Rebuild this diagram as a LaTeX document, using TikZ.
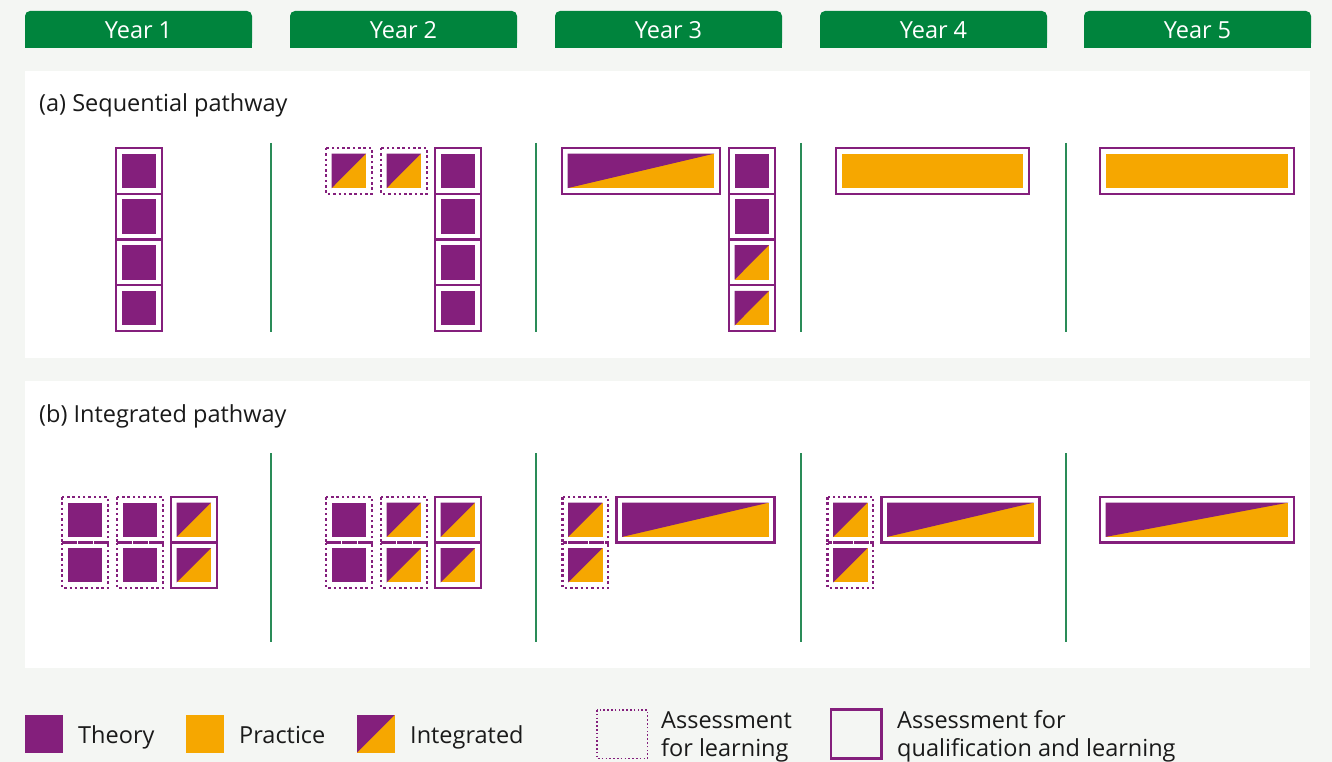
\documentclass[tikz,border=0pt]{standalone}
\usepackage{fontspec}
\setmainfont{Open Sans}
\definecolor{pur}{HTML}{841F7C}
\definecolor{ora}{HTML}{F6A700}
\definecolor{grn}{HTML}{00843D}
\definecolor{bgc}{HTML}{F4F6F3}
\definecolor{sepc}{HTML}{2A8C58}
\definecolor{txt}{HTML}{1A1A1A}
\newcommand\fillth[4]{\fill[pur] (#1+5.6,#2+5.6) rectangle (#3-5.6,#4-5.6);}
\newcommand\fillpr[4]{\fill[ora] (#1+5.6,#2+5.6) rectangle (#3-5.6,#4-5.6);}
\newcommand\fillin[4]{\fill[ora] (#1+5.6,#2+5.6) rectangle (#3-5.6,#4-5.6);\fill[pur] (#1+5.6,#2+5.6) -- (#3-5.6,#2+5.6) -- (#1+5.6,#4-5.6) -- cycle;}
\newcommand\qbox[4]{\draw[qb] (#1,#2) rectangle (#3,#4);}
\newcommand\lbox[4]{\draw[lb] (#1,#2) rectangle (#3,#4);}
\newcommand\cell[6]{\csname fill#5\endcsname{#1}{#2}{#3}{#4}\csname #6box\endcsname{#1}{#2}{#3}{#4}}
\begin{document}
\begin{tikzpicture}[x=1pt,y=-1pt,
  qb/.style={draw=pur,line width=2.4pt},
  lb/.style={draw=pur,line width=2.4pt,dash pattern=on 2.5pt off 2.8pt},
  sepline/.style={draw=sepc,line width=1.2pt},
  headtxt/.style={text=white,font=\fontsize{23.5}{28}\selectfont,inner sep=0pt,anchor=base},
  paneltxt/.style={text=txt,font=\fontsize{23.5}{28}\selectfont,anchor=base west,inner sep=0pt},
  legtxt/.style={text=txt,font=\fontsize{23.5}{28}\selectfont,anchor=base west,inner sep=0pt,align=left}]
\useasboundingbox (0,0) rectangle (1332,762);
\fill[bgc] (0,0) rectangle (1332,762);
\fill[white] (25,71) rectangle (1310,358);
\fill[white] (25,381) rectangle (1310,668);
% headers
\foreach \i/\x in {1/25,2/290,3/555,4/820,5/1084}{
  \fill[grn,rounded corners=5pt] (\x,11) rectangle (\x+227,48);
  \fill[grn] (\x,30) rectangle (\x+227,48);
  \node[headtxt] (year\i) at (\x+113.5,38.5) {Year \i};
}
% panel labels
\node[paneltxt] (pa) at (39,112) {(a) Sequential pathway};
\node[paneltxt] (pb) at (39,422) {(b) Integrated pathway};
% separators
\foreach \x in {271,536,801,1066}{
  \draw[sepline] (\x,143) -- (\x,332);
  \draw[sepline] (\x,453) -- (\x,642);
}
% ---------- panel a ----------
\foreach \y in {148,193.75,239.5,285.25}{
  \cell{116}{\y}{161.7}{\y+45.75}{th}{q}
  \cell{435}{\y}{480.7}{\y+45.75}{th}{q}
}
\cell{326}{148}{371.7}{193.75}{in}{l}
\cell{381}{148}{426.7}{193.75}{in}{l}
\cell{562}{148}{720}{193.75}{in}{q}
\cell{729}{148}{774.7}{193.75}{th}{q}
\cell{729}{193.75}{774.7}{239.5}{th}{q}
\cell{729}{239.5}{774.7}{285.25}{in}{q}
\cell{729}{285.25}{774.7}{331}{in}{q}
\cell{836}{148}{1029}{193.75}{pr}{q}
\cell{1100}{148}{1294}{193.75}{pr}{q}
% ---------- panel b ----------
\foreach \y in {497,542.5}{
  \cell{62}{\y}{107.7}{\y+45.5}{th}{l}
  \cell{117}{\y}{162.7}{\y+45.5}{th}{l}
  \cell{171}{\y}{216.7}{\y+45.5}{in}{q}
  \cell{326}{\y}{371.7}{\y+45.5}{th}{l}
  \cell{381}{\y}{426.7}{\y+45.5}{in}{l}
  \cell{435}{\y}{480.7}{\y+45.5}{in}{q}
  \cell{562.5}{\y}{608.2}{\y+45.5}{in}{l}
  \cell{827.5}{\y}{873.2}{\y+45.5}{in}{l}
}
\cell{616.5}{497}{774.5}{542.5}{in}{q}
\cell{881.5}{497}{1039.5}{542.5}{in}{q}
\cell{1100}{497}{1294}{542.5}{in}{q}
% ---------- legend ----------
\fill[pur] (25,715) rectangle (62.5,752.5);
\node[legtxt] (lth) at (78,743) {Theory};
\fill[ora] (186,715) rectangle (223.5,752.5);
\node[legtxt] (lpr) at (239,743) {Practice};
\fill[ora] (357,715) rectangle (394.5,752.5);
\fill[pur] (357,715) -- (394.5,715) -- (357,752.5) -- cycle;
\node[legtxt] (lin) at (410,743) {Integrated};
\draw[draw=pur,line width=1.8pt,dash pattern=on 1.6pt off 2.2pt] (597,710) rectangle (647.5,758.5);
\node[legtxt] (lafl) at (661,756) {Assessment\\for learning};
\draw[qb] (831,709.5) rectangle (881.5,758.5);
\node[legtxt] (lafq) at (897,756) {Assessment for\\qualification and learning};
\end{tikzpicture}
\end{document}
